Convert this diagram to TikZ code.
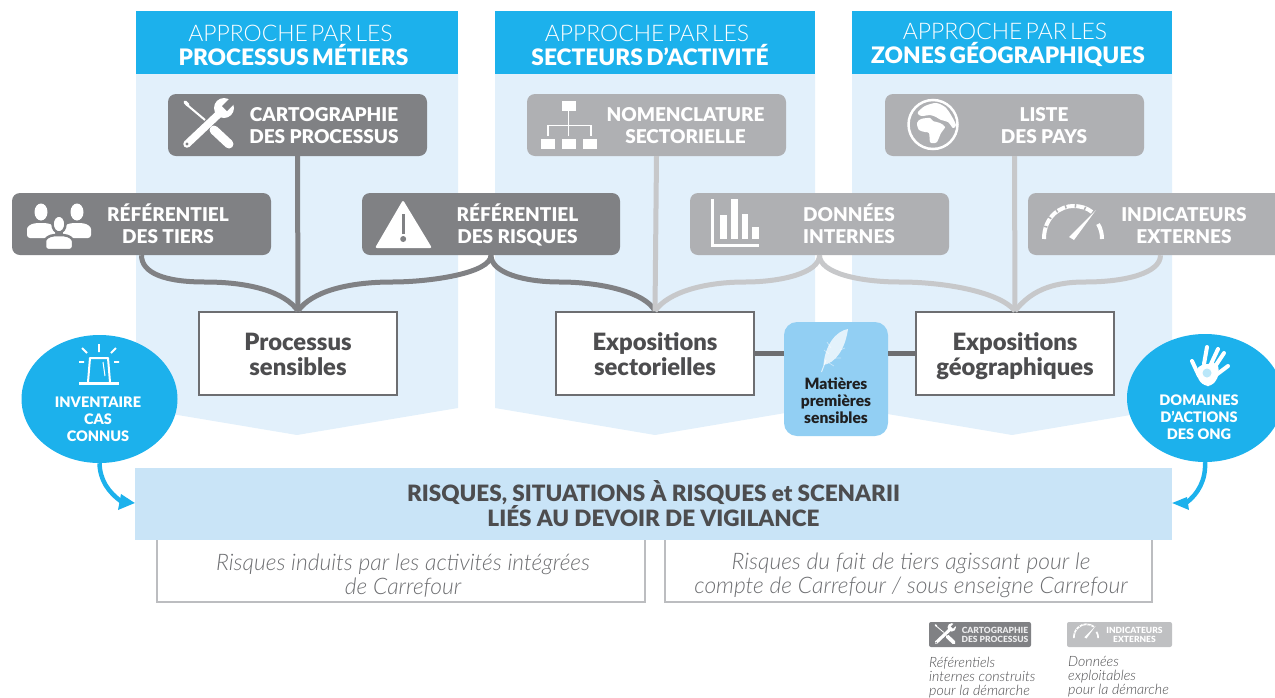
\documentclass[tikz,border=0pt]{standalone}
\usepackage{fontspec}
\setmainfont{Lato}
\newfontfamily\lightf{Lato Light}
\newfontfamily\heavyf{Lato Black}
\usetikzlibrary{calc,shapes.geometric}
\definecolor{cyanH}{HTML}{1CB1EC}
\definecolor{panelB}{HTML}{E2F0FB}
\definecolor{bandB}{HTML}{C9E4F7}
\definecolor{midB}{HTML}{92CFF3}
\definecolor{darkG}{HTML}{808184}
\definecolor{lightG}{HTML}{AFB0B3}
\definecolor{lineL}{HTML}{C7C8CA}
\definecolor{edgeG}{HTML}{6D6E71}
\definecolor{txtG}{HTML}{4D4D4F}
\definecolor{thinG}{HTML}{BCBDC0}
\newcommand{\fsz}[2]{\fontsize{#1pt}{#2pt}\selectfont}
\newcommand{\twol}[2]{\rule{0pt}{.9em}#1\\#2\rule[-.3em]{0pt}{.3em}}
\newcommand{\twow}[2]{\rule{0pt}{1.1em}#1\\#2\rule[-.3em]{0pt}{.3em}}
\tikzset{
  panel/.style={fill=panelB,draw=none},
  header/.style={fill=cyanH,minimum width=322pt,minimum height=63pt,inner sep=0pt},
  hdrtext/.style={text=white,text width=320pt,inner sep=0pt,align=center},
  darkbox/.style={fill=darkG,rounded corners=8pt,minimum width=259pt,minimum height=62pt,inner sep=0pt},
  lightbox/.style={fill=lightG,rounded corners=8pt,minimum width=259pt,minimum height=62pt,inner sep=0pt},
  boxtext/.style={text=white,align=center,inner sep=0pt,font=\heavyf\fsz{19}{22}},
  whitebox/.style={fill=white,draw=edgeG,line width=2pt,minimum width=198pt,minimum height=83pt,inner sep=0pt,align=center,text=txtG,font=\heavyf\fsz{23.8}{25.5}},
  darkline/.style={draw=darkG,line width=5pt},
  lightline/.style={draw=lineL,line width=5pt},
  linkline/.style={draw=edgeG,line width=5pt},
  bluecircle/.style={fill=cyanH,ellipse,minimum width=156pt,minimum height=128pt,inner sep=0pt},
  circtext/.style={text=white,align=center,inner sep=0pt,font=\heavyf\fsz{14.5}{16.8}},
  risktext/.style={text=edgeG,align=center,inner sep=0pt,font=\lightf\fsz{22.8}{24}\itshape},
  legtext/.style={text=txtG,align=left,anchor=north west,inner sep=0pt,font=\lightf\fsz{14.2}{14}\itshape},
  bracket/.style={draw=thinG,line width=1.5pt},
  bluearrow/.style={draw=cyanH,line width=4.5pt},
}
\newcommand{\hdr}[1]{{\lightf\fsz{22.9}{24}\hspace*{-6pt}APPROCHE PAR LES\par}{\heavyf\fsz{22.7}{24}#1\par}}
\newcommand{\icTools}[4]{\begin{scope}[shift={(#1,#2)},scale=#3]
  \draw[white,line width=#3*2pt] (-22,-21)--(-3,-5);
  \draw[white,line width=#3*3.5pt,line cap=round] (-23,-23)--(-20,-20);
  \draw[white,line width=#3*9pt,line cap=round] (6,5)--(21,19);
  \draw[white,line width=#3*7.5pt,line cap=round] (-21,19)--(14,-14);
  \fill[white] (16,-17) circle (10);
  \fill[#4] (14,-19)--(19,-14)--(29,-24)--(24,-29)--cycle;
  \fill[#4] (-21,19) circle (1.7);
\end{scope}}
\newcommand{\icPerson}[3]{\begin{scope}[shift={(#1,#2)}]
  \path[white,fill=white,#3] (0,-13) ellipse (6.5 and 8.5);
  \path[white,fill=white,#3,rounded corners=3pt] (-14,13)--(-14,7) .. controls (-14,1) and (-9,-1) .. (-5,-2)--(5,-2) .. controls (9,-1) and (14,1) .. (14,7)--(14,13)--cycle;
\end{scope}}
\newcommand{\icPeople}[2]{\begin{scope}[shift={(#1,#2)}]
  \icPerson{-18}{1}{}
  \icPerson{18}{1}{}
  \icPerson{0}{13}{draw=darkG,line width=2.5pt}
\end{scope}}
\newcommand{\icGauge}[4]{\begin{scope}[shift={(#1,#2)},scale=#3]
  \draw[white,line width=#3*4pt] (-29,5) .. controls (-29,-18) and (-12,-28) .. (0,-28) .. controls (8,-28) and (14,-26) .. (19,-22);
  \draw[white,line width=#3*4pt] (25,-10) .. controls (28,-5) and (29,0) .. (29,5);
  \foreach \a in {195,215,235,255,275,295}{\draw[#4,line width=#3*1.5pt] (\a:30)--(\a:26.5);}
  \fill[white] (-4,3) -- (1,6) -- (23,-24) -- cycle;
\end{scope}}
\begin{document}
\begin{tikzpicture}[x=1pt,y=-1pt]
\useasboundingbox (0,0) rectangle (1275,697);
\clip (0,0) rectangle (1275,697);
% panels
\fill[panel] (136,74)--(458,74)--(458,408)--(297,435)--(136,408)--cycle;
\fill[panel] (495,74)--(815,74)--(815,408)--(655,435)--(495,408)--cycle;
\fill[panel] (852,74)--(1172,74)--(1172,408)--(1012,435)--(852,408)--cycle;
\node[header] (h1) at (297,42.5) {};
\node[header,minimum width=320pt] (h2) at (655,42.5) {};
\node[header,minimum width=320pt] (h3) at (1012,42.5) {};
\node[hdrtext] (h1t) at (293.5,45) {\hdr{PROCESSUS MÉTIERS}};
\node[hdrtext] (h2t) at (650,45) {\hdr{SECTEURS D’ACTIVITÉ}};
\node[hdrtext] (h3t) at (1008,45) {\hdr{ZONES GÉOGRAPHIQUES}};
% band and brackets
\node[fill=bandB,minimum width=1037pt,minimum height=72pt,inner sep=0pt,align=center,text=txtG,font=\heavyf\fsz{22.5}{25}] (band) at (653.5,504) {RISQUES, SITUATIONS À RISQUES et SCENARII\\LIÉS AU DEVOIR DE VIGILANCE\rule[-2pt]{0pt}{2pt}};
\draw[bracket] (157,540)--(157,602)--(645,602)--(645,540);
\draw[bracket] (665,540)--(665,602)--(1152,602)--(1152,540);
\node[risktext] (r1) at (403,575.5) {Risques induits par les activités intégrées\\de Carrefour};
\node[risktext] (r2) at (911,575.5) {Risques du fait de tiers agissant pour le\\compte de Carrefour / sous enseigne Carrefour};
% boxes
\node[darkbox] (carto) at (297.5,125) {};
\node[darkbox] (tiers) at (141.5,224) {};
\node[darkbox,minimum width=258pt] (risq) at (491,224) {};
\node[lightbox] (nomen) at (656.5,125) {};
\node[lightbox] (donn) at (819.5,224) {};
\node[lightbox] (liste) at (1014.5,125) {};
\node[lightbox,minimum width=265pt] (indic) at (1160.5,224) {};
% white boxes
\node[whitebox] (ep) at (298,353.5) {\twow{Processus}{sensibles}};
\node[whitebox] (es) at (655,353.5) {\twow{Expositions}{sectorielles}};
\node[whitebox] (eg) at (1015,353.5) {\twow{Expositions}{géographiques}};
% connectors
\path[darkline] (carto.south)--(ep.north);
\path[darkline] (tiers.south) .. controls +(0,18) and (165,282) .. (205,282) .. controls (250,282) and (285,292) .. (ep.north);
\path[darkline] (risq.south) .. controls +(0,18) and (430,282) .. (392,282) .. controls (347,282) and (311,292) .. (ep.north);
\path[darkline] (risq.south) .. controls +(0,18) and (525,282) .. (560,282) .. controls (600,282) and (645,292) .. (es.north);
\path[lightline] (nomen.south)--(es.north);
\path[lightline] (donn.south) .. controls +(0,18) and (780,282) .. (745,282) .. controls (705,282) and (668,292) .. (es.north);
\path[lightline] (donn.south) .. controls +(0,18) and (860,282) .. (900,282) .. controls (945,282) and (1000,292) .. (eg.north);
\path[lightline] (liste.south)--(eg.north);
\path[lightline] (indic.south) .. controls +(0,18) and (1125,282) .. (1085,282) .. controls (1050,282) and (1030,292) .. (eg.north);
% box texts
\node[boxtext] (t1) at (324,127) {\twol{CARTOGRAPHIE}{DES PROCESSUS}};
\node[boxtext] (t2) at (168,226.5) {\twol{RÉFÉRENTIEL}{DES TIERS}};
\node[boxtext] (t3) at (517.5,226.5) {\twol{RÉFÉRENTIEL}{DES RISQUES}};
\node[boxtext] (t4) at (685.5,127) {\twol{NOMENCLATURE}{SECTORIELLE}};
\node[boxtext] (t5) at (849,226.5) {\twol{DONNÉES}{INTERNES}};
\node[boxtext] (t6) at (1044,127) {\twol{LISTE}{DES PAYS}};
\node[boxtext] (t7) at (1184,226.5) {\twol{INDICATEURS}{EXTERNES}};
% icons
\icTools{208}{125}{1}{darkG}
\icPeople{59}{224}
% warning
\fill[white,rounded corners=2pt] (403,200)--(432,248)--(375,248)--cycle;
\fill[darkG] (402,214) rectangle (404.5,234);
\fill[darkG] (403.2,239) circle (3);
% hierarchy
\fill[white] (562,101) rectangle (576,111);
\fill[white] (541,139) rectangle (555,149);
\fill[white] (562,139) rectangle (576,149);
\fill[white] (583,139) rectangle (597,149);
\draw[white,line width=1.6pt] (568.5,111)--(568.5,136);
\draw[white,line width=1.6pt] (548,136)--(548,125.5)--(591,125.5)--(591,136);
% chart
\fill[white] (711,199) rectangle (714,247);
\fill[white] (711,244) rectangle (759,247);
\fill[white] (720,215) rectangle (727,239);
\fill[white] (731,199) rectangle (738,239);
\fill[white] (742,214) rectangle (748,239);
\fill[white] (752,227) rectangle (759,239);
% globe
\draw[white,line width=2.5pt] (933,124.5) circle (24.5);
\begin{scope}[shift={(933,125)}]
\fill[white] plot[smooth cycle,tension=.5] coordinates {(-16,-2)(-12,-6)(-3,-7)(0,-4)(7,-2)(12,2)(8,8)(4,17)(0,18)(-3,17)(-4,8)(-8,7)(-14,5)};
\fill[white] plot[smooth cycle,tension=.5] coordinates {(-15,-13)(-8,-19)(3,-22)(12,-18)(18,-10)(23,0)(20,3)(15,-3)(8,-5)(3,-8)(-3,-10)(-10,-9)(-14,-10)};
\end{scope}
\icGauge{1073}{234}{1}{lightG}
% central box
\node[fill=midB,rounded corners=13pt,minimum width=104pt,minimum height=114pt,inner sep=0pt] (mid) at (836,379) {};
\path[linkline] (es.east)--(mid.west |- es.east);
\path[linkline] (mid.east |- eg.west)--(eg.west);
\node[text=txtG!40!black,align=center,inner sep=0pt,font=\heavyf\fsz{15.6}{17}] (midt) at (836,401) {Matières\\premières\\sensibles};
\fill[white,opacity=.75] (848,329) .. controls (836,331) and (825,345) .. (823.5,365) .. controls (835,363) and (845,350) .. (848,329) -- cycle;
\draw[white,opacity=.7,line width=1pt] (821.5,372)--(826,360);
\draw[white,opacity=.45,line width=.7pt] (824,350)--(829,354) (827,342)--(831,348) (845,348)--(840,350) (841,358)--(835,358) (834,366)--(829,363);
% circles
\node[bluecircle] (cl) at (99.5,399) {};
\node[bluecircle] (cr) at (1205,398) {};
\node[circtext] (clt) at (98,419) {INVENTAIRE\\CAS\\CONNUS};
\node[circtext] (crt) at (1199,417) {DOMAINES\\D’ACTIONS\\DES ONG};
% beacon
\fill[white] (79,382) rectangle (119,385);
\draw[white,line width=2pt,line join=round] (88,382)--(90,358)--(108,358)--(110,382);
\draw[white,line width=1pt] (103,362)--(105,376);
\draw[white,line width=1.8pt] (99,344)--(99,352) (82,348)--(87,353) (116,348)--(111,353) (79,362)--(84,362) (114,362)--(119,362);
% hand
\fill[white,rounded corners=5pt] (1197,366)--(1218,362)--(1219,376)--(1212,386)--(1204,386)--(1197,378)--cycle;
\draw[white,line width=4pt,line cap=round] (1204,364)--(1207,347) (1211,364)--(1218,349) (1216,365)--(1224,353) (1216,375)--(1228,366) (1199,376)--(1192,361);
\fill[cyanH,opacity=.3] (1207,373) circle (4.5);
% arrows
\path[bluearrow] (cl.south) .. controls (100,480) and (108,492) .. (122,502);
\fill[cyanH] (band.west |- 0,503) -- (118,510) -- (121,494) -- cycle;
\path[bluearrow] (cr.south) .. controls (1206,480) and (1198,494) .. (1186,503);
\fill[cyanH] (band.east |- 0,503) -- (1189,510) -- (1187,497) -- cycle;
% legend
\node[fill=darkG,rounded corners=2pt,minimum width=102pt,minimum height=25pt,inner sep=0pt] (leg1) at (980,634.5) {};
\icTools{945}{634.5}{.42}{darkG}
\node[text=white!85!darkG,align=center,inner sep=0pt,font=\heavyf\fsz{8.5}{9}] (leg1t) at (995,634.5) {CARTOGRAPHIE\\DES PROCESSUS};
\node[fill=lightG!80!white,rounded corners=2pt,minimum width=105pt,minimum height=25pt,inner sep=0pt] (leg2) at (1119.5,634.5) {};
\icGauge{1086}{636}{.42}{lightG!80!white}
\node[text=white,align=center,inner sep=0pt,font=\heavyf\fsz{8.5}{9}] (leg2t) at (1134.5,634.5) {INDICATEURS\\EXTERNES};
\node[legtext] (l1) at (929,656.5) {Référentiels\\internes construits\\pour la démarche};
\node[legtext] (l2) at (1068,656.5) {Données\\exploitables\\pour la démarche};
\end{tikzpicture}
\end{document}
